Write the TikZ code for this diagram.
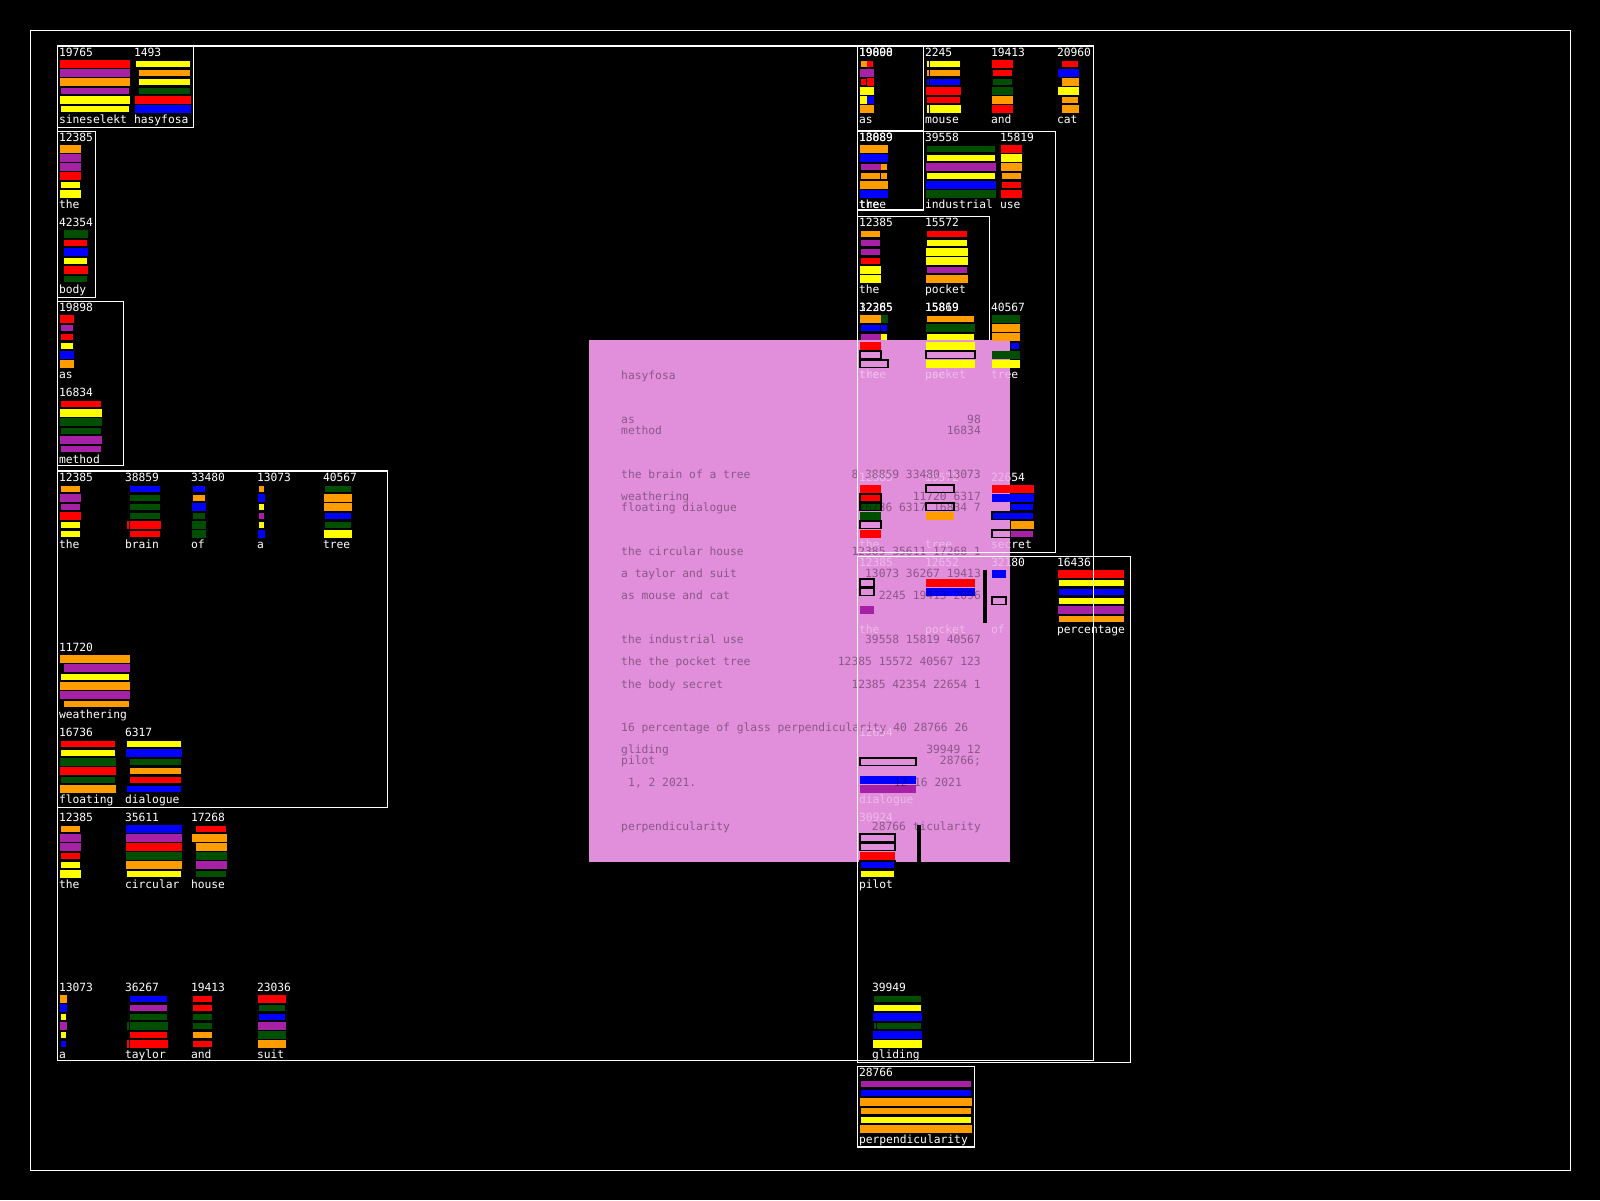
\documentclass[tikz,border=0pt]{standalone}
\usepackage{fontspec}
\newfontfamily\pix{DejaVu Sans Mono}
\pgfdeclarelayer{bg}\pgfdeclarelayer{txt}\pgfdeclarelayer{fade}\pgfdeclarelayer{bars}
\pgfsetlayers{bg,txt,fade,bars,main}
\definecolor{cR}{HTML}{FF0000}
\definecolor{cY}{HTML}{FFFF00}
\definecolor{cO}{HTML}{FF9C00}
\definecolor{cP}{HTML}{A621A6}
\definecolor{cG}{HTML}{004F00}
\definecolor{cB}{HTML}{0000FF}
\definecolor{pinkc}{HTML}{E18EDB}
\def\hF{7.6}
\def\hT{6.3}
\tikzset{
 lbl/.style={font=\pix\fontsize{11.3}{12}\selectfont, text=white, anchor=base west, inner sep=0pt},
 ptl/.style={font=\pix\fontsize{11.3}{12}\selectfont, text=black, opacity=0.38, anchor=base west, inner sep=0pt},
 ptr/.style={ptl, anchor=base east},
 bx/.style={draw=white, line width=1.1pt},
 bR/.style={fill=cR}, bY/.style={fill=cY}, bO/.style={fill=cO},
 bP/.style={fill=cP}, bG/.style={fill=cG}, bB/.style={fill=cB},
 po/.style={fill=pinkc, draw=black, line width=1.1pt},
 ro/.style={fill=cR, draw=black, line width=1.1pt},
 bo/.style={fill=cB, draw=black, line width=1.1pt},
 go/.style={fill=cG, draw=black, line width=1.1pt},
}
\newcommand\blk[6]{%
\begin{scope}[shift={(#2,#3)}]
\begin{pgfonlayer}{txt}
\node[lbl] (#1n) at (-1.2,10) {#4};
\node[lbl] (#1w) at (-1.2,77.3) {#5};
\end{pgfonlayer}
\begin{pgfonlayer}{bars}
\foreach \r/\c/\a/\b/\h in {#6}{\path[\c] (\a,{17.8+9*(\r-1)-\h/2}) rectangle (\b,{17.8+9*(\r-1)+\h/2});}
\end{pgfonlayer}
\end{scope}}
\begin{document}
\begin{tikzpicture}[x=1pt,y=-1pt]
\begin{pgfonlayer}{bg}
\fill[black] (0,0) rectangle (1600,1200);
\draw[bx] (857.3,216.7) rectangle (989.3,470);
\fill[pinkc] (588.8,339.8) rectangle (1010.2,862.2);
\end{pgfonlayer}
\useasboundingbox (0,0) rectangle (1600,1200);
% left blocks
\blk{s1}{60}{46}{19765}{sineselekt}{1/bR/0/70/\hF,2/bP/0/70/\hF,3/bO/0/70/\hF,4/bP/1/69/\hT,5/bY/0/70/\hF,6/bY/1/69/\hT}
\blk{s2}{135}{46}{1493}{hasyfosa}{1/bY/1/55/\hT,2/bO/4/55/\hT,3/bY/4/55/\hT,4/bG/4/55/\hT,5/bR/0/56/\hF,6/bB/0/56/\hF}
\blk{s3}{60}{131}{12385}{the}{1/bO/0/21/\hF,2/bP/0/21/\hF,3/bP/0/21/\hF,4/bR/0/21/\hF,5/bY/1/20/\hT,6/bY/0/21/\hF}
\blk{s4}{60}{216}{42354}{body}{1/bG/4/27.7/\hF,2/bR/4/26.7/\hT,3/bB/4/27.7/\hF,4/bY/4/26.7/\hT,5/bR/4/27.7/\hF,6/bG/4/26.7/\hT}
\blk{s5}{60}{301}{19898}{as}{1/bR/0/14/\hF,2/bP/1/13/\hT,3/bR/1/13/\hT,4/bY/1/13/\hT,5/bB/0/14/\hF,6/bO/0/14/\hF}
\blk{s6}{60}{386}{16834}{method}{1/bR/1/41/\hT,2/bY/0/42/\hF,3/bG/0/42/\hF,4/bG/1/41/\hT,5/bP/0/42/\hF,6/bP/1/41/\hT}
\blk{s7}{60}{471}{12385}{the}{1/bO/1/20/\hT,2/bP/0/21/\hF,3/bP/1/20/\hT,4/bR/0/21/\hF,5/bY/1/20/\hT,6/bY/1/20/\hT}
\blk{s8}{126}{471}{38859}{brain}{1/bB/4/34/\hT,2/bG/4/34/\hT,3/bG/4/34/\hT,4/bG/4/34/\hT,5/bR/1/2.7/\hF,5/bR/4/35/\hF,6/bR/4/34/\hT}
\blk{s9}{192}{471}{33480}{of}{1/bB/1/13/\hT,2/bO/1/13/\hT,3/bB/0/14/\hF,4/bG/1/13/\hT,5/bG/0/14/\hF,6/bG/0/14/\hF}
\blk{s10}{258}{471}{13073}{a}{1/bO/1/6/\hT,2/bB/0/7/\hF,3/bY/1/6/\hT,4/bP/1/6/\hT,5/bY/1/6/\hT,6/bB/0/7/\hF}
\blk{s11}{324}{471}{40567}{tree}{1/bG/1/27/\hT,2/bO/0/28/\hF,3/bO/0/28/\hF,4/bB/1/27/\hT,5/bG/1/27/\hT,6/bY/0/28/\hF}
\blk{s12}{60}{641}{11720}{weathering}{1/bO/0/70/\hF,2/bP/4/70/\hF,3/bY/1/69/\hT,4/bO/0/70/\hF,5/bP/0/70/\hF,6/bO/4/69/\hT}
\blk{s13}{60}{726}{16736}{floating}{1/bR/1/55/\hT,2/bY/1/55/\hT,3/bG/0/56/\hF,4/bR/0/56/\hF,5/bG/1/55/\hT,6/bO/0/56/\hF}
\blk{s14}{126}{726}{6317}{dialogue}{1/bY/1/55/\hT,2/bB/0/56/\hF,3/bG/4/55/\hT,4/bO/4/55/\hT,5/bR/4/55/\hT,6/bB/1/55/\hT}
\blk{s15}{60}{811}{12385}{the}{1/bO/1/20/\hT,2/bP/0/21/\hF,3/bP/0/21/\hF,4/bR/1/20/\hT,5/bY/1/20/\hT,6/bY/0/21/\hF}
\blk{s16}{126}{811}{35611}{circular}{1/bB/0/56/\hF,2/bP/0/56/\hF,3/bR/0/56/\hF,4/bG/0/56/\hF,5/bO/0/56/\hF,6/bY/1/55/\hT}
\blk{s17}{192}{811}{17268}{house}{1/bR/4/34/\hT,2/bO/0/35/\hF,3/bO/4/35/\hF,4/bG/4/35/\hF,5/bP/4/35/\hF,6/bG/4/34/\hT}
\blk{s18}{60}{981}{13073}{a}{1/bO/0/7/\hF,2/bB/0/7/\hF,3/bY/1/6/\hT,4/bP/0/7/\hF,5/bY/1/6/\hT,6/bB/1/6/\hT}
\blk{s19}{126}{981}{36267}{taylor}{1/bB/4/41/\hT,2/bP/4/41/\hT,3/bG/4/41/\hT,4/bG/1/2.7/\hF,4/bG/4/42/\hF,5/bR/4/41/\hT,6/bR/1/2.7/\hF,6/bR/4/42/\hF}
\blk{s20}{192}{981}{19413}{and}{1/bR/1/20/\hT,2/bR/1/20/\hT,3/bG/1/20/\hT,4/bG/1/20/\hT,5/bO/1/20/\hT,6/bR/1/20/\hT}
\blk{s21}{258}{981}{23036}{suit}{1/bR/0/28/\hF,2/bG/1/27/\hT,3/bB/1/27/\hT,4/bP/0/28/\hF,5/bG/0/28/\hF,6/bO/0/28/\hF}
% right blocks
\blk{r1}{860}{46}{\rlap{19898}19000}{as}{1/bO/1/7/\hT,1/bR/7/13/\hT,2/bP/0/14/\hF,3/bR/1/6/\hT,3/bR/7/14/\hF,4/bY/0/14/\hF,5/bY/0/7/\hF,5/bB/7/14/\hF,6/bO/0/14/\hF}
\blk{r2}{926}{46}{2245}{mouse}{1/bY/1/2.7/\hT,1/bY/4/34/\hT,2/bO/1/2.7/\hT,2/bO/4/34/\hT,3/bB/1/2.7/\hT,3/bB/4/34/\hT,4/bR/0/35/\hF,5/bR/1/34/\hT,6/bY/1/2.7/\hF,6/bY/4/35/\hF}
\blk{r3}{992}{46}{19413}{and}{1/bR/0/21/\hF,2/bR/1/20/\hT,3/bG/1/20/\hT,4/bG/0/21/\hF,5/bO/0/21/\hF,6/bR/0/21/\hF}
\blk{r4}{1058}{46}{20960}{cat}{1/bR/4/20/\hT,2/bB/0/21/\hF,3/bO/4/21/\hF,4/bY/0/21/\hF,5/bO/4/20/\hT,6/bO/4/21/\hF}
\blk{r5}{860}{131}{\rlap{18889}13089}{\rlap{the}tree}{1/bO/0/28/\hF,2/bB/0/28/\hF,3/bP/1/21/\hT,3/bO/21/27/\hT,4/bO/1/20/\hT,4/bO/21/27/\hT,5/bO/0/28/\hF,6/bB/0/28/\hF}
\blk{r6}{926}{131}{39558}{industrial}{1/bG/1/69/\hT,2/bY/1/69/\hT,3/bP/0/70/\hF,4/bY/1/69/\hT,5/bB/0/70/\hF,6/bG/0/70/\hF}
\blk{r7}{1001}{131}{15819}{use}{1/bR/0/21/\hF,2/bY/0/21/\hF,3/bO/0/21/\hF,4/bO/1/20/\hT,5/bR/1/20/\hT,6/bR/0/21/\hF}
\blk{r8}{860}{216}{12385}{the}{1/bO/1/20/\hT,2/bP/1/20/\hT,3/bP/1/20/\hT,4/bR/1/20/\hT,5/bY/0/21/\hF,6/bY/0/21/\hF}
\blk{r9}{926}{216}{15572}{pocket}{1/bR/1/41/\hT,2/bY/1/41/\hT,3/bY/0/42/\hF,4/bY/0/42/\hF,5/bP/1/41/\hT,6/bO/0/42/\hF}
\blk{r10}{860}{301}{\rlap{12385}32265}{\rlap{the}tree}{1/bO/0/21/\hF,1/bG/21/28/\hF,2/bB/1/20/\hT,2/bB/21/27/\hT,3/bP/1/21/\hT,3/bY/21/27/\hT,4/bR/0/21/\hF,5/po/0/21/\hF,6/po/0/28/\hF}
\blk{r11}{926}{301}{\rlap{15869}15819}{\rlap{pocket}use}{1/bO/1/48/\hT,2/bG/0/49/\hF,3/bY/1/48/\hT,4/bY/0/49/\hF,5/po/0/49/\hF,6/bY/0/49/\hF}
\blk{r12}{992}{301}{40567}{tree}{1/bG/0/28/\hF,2/bO/0/28/\hF,3/bO/0/28/\hF,4/bB/19/27/\hT,5/bG/0/28/\hF,6/bY/0/28/\hF}
\blk{r13}{860}{471}{12385}{the}{1/bR/0/21/\hF,2/ro/0/21/\hF,3/go/0/21/\hF,4/bG/0/21/\hF,5/po/0/21/\hF,6/bR/0/21/\hF}
\blk{r14}{926}{471}{15572}{tree}{1/po/0/28/\hF,3/po/0/28/\hF,4/bO/0/28/\hF}
\blk{r15}{992}{471}{22654}{secret}{1/bR/0/42/\hF,2/bB/0/42/\hF,3/bB/19/41/\hT,4/bo/0/42/\hF,5/bO/19/42/\hF,6/po/0/19/\hF,6/bP/19/41/\hT}
\blk{r16}{860}{556}{12385}{the}{2/po/0/14/\hF,3/po/0/14/\hF,5/bP/0/14/\hF}
\blk{r17}{926}{556}{12652}{pocket}{2/bR/0/49/\hF,3/bB/0/49/\hF}
\blk{r18}{992}{556}{32180}{of}{1/bB/0/14/\hF,4/po/0/14/\hF}
\blk{r19}{1058}{556}{16436}{percentage}{1/bR/0/66/\hF,2/bY/1/66/\hT,3/bB/1/66/\hT,4/bY/1/66/\hT,5/bP/0/66/\hF,6/bO/1/66/\hT}
\blk{r20}{860}{726}{12654}{dialogue}{3/po/0/56/\hF,5/bB/0/56/\hF,6/bP/0/56/\hF}
\blk{r21}{860}{811}{30924}{pilot}{2/po/0/35/\hF,3/po/0/35/\hF,4/bR/0/35/\hF,5/bo/0/35/\hF,6/bY/1/34/\hT}
\blk{r22}{873}{981}{39949}{gliding}{1/bG/1/48/\hT,2/bY/1/48/\hT,3/bB/0/49/\hF,4/bG/1/3/\hT,4/bG/4/48/\hT,5/bB/0/49/\hF,6/bY/0/49/\hF}
\blk{r23}{860}{1066}{28766}{perpendicularity}{1/bP/1/111/\hT,2/bB/1/111/\hT,3/bO/0/112/\hF,4/bO/1/111/\hT,5/bY/1/111/\hT,6/bO/0/112/\hF}
% fade of the texts under the pink sheet
\begin{pgfonlayer}{fade}
\fill[pinkc, opacity=0.6] (588.8,339.8) rectangle (1010.2,862.2);
\end{pgfonlayer}
\begin{pgfonlayer}{bars}
\fill[black] (983.3,569.8) rectangle (987,622.5);
\fill[black] (917,825) rectangle (921,877.5);
\end{pgfonlayer}
% text of the pink sheet
\node[ptl] (p1) at (621,379.8) {hasyfosa};
\node[ptl] (p2) at (621,423.5) {as};
\node[ptl] (p3) at (621,434.2) {method};
\node[ptl] (p4) at (621,478) {the brain of a tree};
\node[ptl] (p5) at (621,500.3) {weathering};
\node[ptl] (p6) at (621,511.4) {floating dialogue};
\node[ptl] (p7) at (621,555.5) {the circular house};
\node[ptl] (p8) at (621,577.1) {a taylor and suit};
\node[ptl] (p9) at (621,599.2) {as mouse and cat};
\node[ptl] (p10) at (621,643.3) {the industrial use};
\node[ptl] (p11) at (621,665.5) {the the pocket tree};
\node[ptl] (p12) at (621,688) {the body secret};
\node[ptl] (p13) at (621,731.1) {16 percentage of glass perpendicularity 40 28766 26};
\node[ptl] (p14) at (621,753.5) {gliding};
\node[ptl] (p15) at (621,764.5) {pilot};
\node[ptl] (p16) at (628,786.2) {1, 2 2021.};
\node[ptl] (p17) at (621,830.9) {perpendicularity};
\node[ptr] (q1) at (981,423.5) {98};
\node[ptr] (q2) at (981,434.2) {16834};
\node[ptr] (q3) at (981,478) {8 38859 33480 13073};
\node[ptr] (q4) at (981,500.3) {11720 6317};
\node[ptr] (q5) at (981,511.4) {16736 6317 16834 7};
\node[ptr] (q6) at (981,555.5) {12385 35611 17268 1};
\node[ptr] (q7) at (981,577.1) {13073 36267 19413};
\node[ptr] (q8) at (981,599.2) {2245 19413 2096};
\node[ptr] (q9) at (981,643.3) {39558 15819 40567};
\node[ptr] (q10) at (981,665.5) {12385 15572 40567 123};
\node[ptr] (q11) at (981,688) {12385 42354 22654 1};
\node[ptr] (q12) at (981,753.5) {39949 12};
\node[ptr] (q13) at (981,764.5) {28766;};
\node[ptr] (q14) at (962,786.2) {12 16 2021};
\node[ptr] (q15) at (981,830.9) {28766 ticularity};
% frames
\draw[bx] (30.6,30.6) rectangle (1570.4,1170.4);
\draw[bx] (57.3,46) rectangle (1093.3,1060.5);
\draw[bx] (57.3,46) rectangle (193.3,127.3);
\draw[bx] (57.3,131.7) rectangle (95.7,297.3);
\draw[bx] (57.3,301.3) rectangle (123.3,465.3);
\draw[bx] (57.3,471) rectangle (387.7,807.3);
\draw[bx] (857.3,46) rectangle (923.3,130.7);
\draw[bx] (857.3,131.7) rectangle (923.3,210);
\draw[bx] (857.3,131.7) rectangle (1055.7,552.3);
\draw[bx] (857.3,556.3) rectangle (1130.7,1062.4);
\draw[bx] (857.3,1066.5) rectangle (974.5,1147);
\end{tikzpicture}
\end{document}
